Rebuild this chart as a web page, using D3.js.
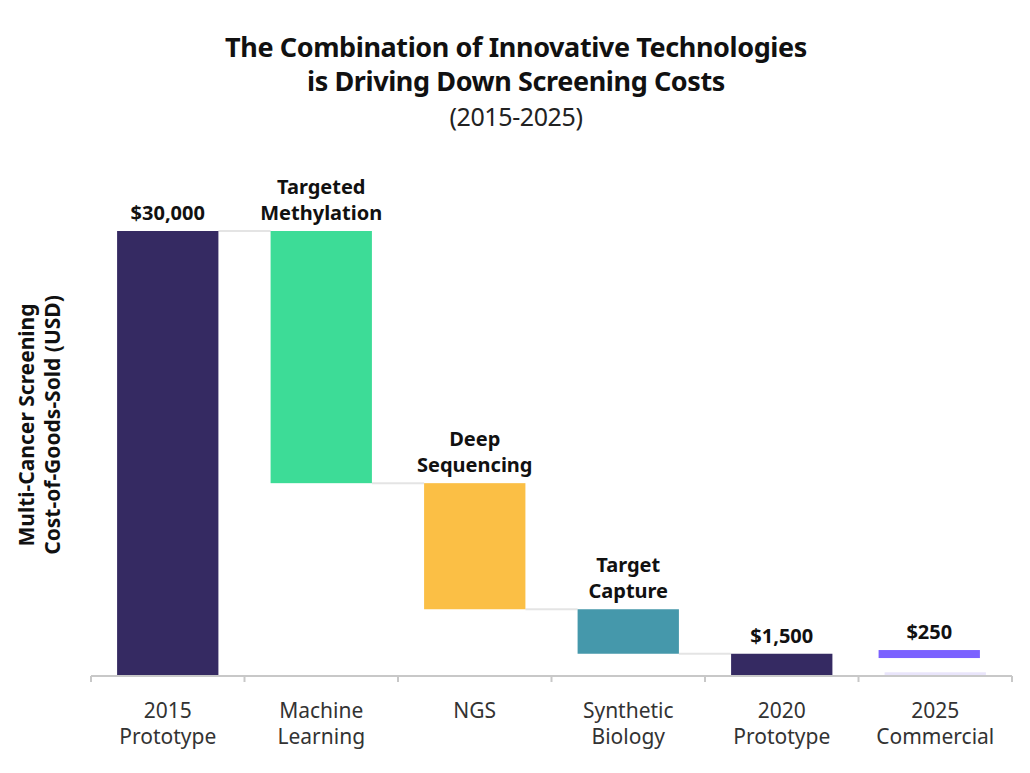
<!DOCTYPE html>
<html>
<head>
<meta charset="utf-8">
<script src="https://cdn.jsdelivr.net/npm/d3@7"></script>
<style>
  body { margin: 0; background: #fff; }
  text { font-family: "Noto Sans", sans-serif; }
</style>
</head>
<body>
<script>
// waterfall data
var categories = ["2015 Prototype", "Machine Learning", "NGS", "Synthetic Biology", "2020 Prototype", "2025 Commercial"]
var tickLines = [["2015", "Prototype"], ["Machine", "Learning"], ["NGS"], ["Synthetic", "Biology"], ["2020", "Prototype"], ["2025", "Commercial"]]
var steps = [30000, -17000, -8500, -3000, 1500, 250]   // first/last two are totals
var isTotal = [true, false, false, false, true, true]
var barLabels = [["$30,000"], ["Targeted", "Methylation"], ["Deep", "Sequencing"], ["Target", "Capture"], ["$1,500"], ["$250"]]
var colors = ["#352a62", "#3ddc97", "#fbbf45", "#4598ab", "#352a62", "#e9e5fb"]

var width = 1030, height = 773
var margin = { top: 231, left: 91, right: 18, bottom: 97 }

var svg = d3.select("body").append("svg")
    .attr("width", width)
    .attr("height", height)

// build bar extents
var bars = []
var running = 0
categories.forEach(function (c, i) {
    if (isTotal[i]) {
        bars.push({ cat: c, y0: 0, y1: steps[i], i: i })
        running = steps[i]
    } else {
        bars.push({ cat: c, y0: running + steps[i], y1: running, i: i })
        running = running + steps[i]
    }
})

var xScale = d3.scaleBand()
    .domain(categories)
    .range([margin.left, width - margin.right])
    .paddingInner(0.34)
    .paddingOuter(0.17)

var yScale = d3.scaleLinear()
    .domain([0, 30000])
    .range([height - margin.bottom, margin.top])

// title
var title = svg.append("g").attr("text-anchor", "middle")
title.append("text").attr("x", 516).attr("y", 57)
    .style("font-size", "27px").style("font-weight", 700).attr("fill", "#111")
    .style("letter-spacing", "-0.4px")
    .text("The Combination of Innovative Technologies")
title.append("text").attr("x", 516).attr("y", 91)
    .style("font-size", "27px").style("font-weight", 700).attr("fill", "#111")
    .style("letter-spacing", "-0.4px")
    .text("is Driving Down Screening Costs")
title.append("text").attr("x", 516).attr("y", 126)
    .style("font-size", "25px").attr("fill", "#222")
    .style("letter-spacing", "-0.4px")
    .text("(2015-2025)")

// connectors
svg.append("g").selectAll("line")
    .data(bars.slice(0, 4))
    .enter().append("line")
    .attr("x1", function (d) { return xScale(d.cat) + xScale.bandwidth() })
    .attr("x2", function (d) { return xScale(categories[d.i + 1]) })
    .attr("y1", function (d) { return yScale(d.i === 0 ? d.y1 : d.y0) })
    .attr("y2", function (d) { return yScale(d.i === 0 ? d.y1 : d.y0) })
    .attr("stroke", "#e4e4e4")
    .attr("stroke-width", 2)

// bars
svg.append("g").selectAll("rect")
    .data(bars)
    .enter().append("rect")
    .attr("x", function (d) { return xScale(d.cat) })
    .attr("width", xScale.bandwidth())
    .attr("y", function (d) { return yScale(d.y1) })
    .attr("height", function (d) { return yScale(d.y0) - yScale(d.y1) })
    .attr("fill", function (d) { return colors[d.i] })

// highlight marker for the 2025 value
var last = categories[5]
svg.append("rect")
    .attr("x", xScale(last) - 6)
    .attr("width", xScale.bandwidth())
    .attr("y", yScale(1750))
    .attr("height", 8)
    .attr("fill", "#7b61ff")

// x axis
var xAxis = d3.axisBottom(xScale).tickSize(0).tickFormat("")
var gx = svg.append("g")
    .attr("transform", "translate(0," + (height - margin.bottom) + ")")
    .call(xAxis)
gx.select(".domain").attr("stroke", "#c8c8c8").attr("stroke-width", 2)
    .attr("d", "M" + margin.left + ",0H" + (width - margin.right))
var edges = categories.map(function (c) { return xScale(c) - xScale.step() * xScale.paddingInner() / 2 })
edges.push(width - margin.right)
gx.selectAll(".sep").data(edges).enter().append("line")
    .attr("x1", function (d) { return d }).attr("x2", function (d) { return d })
    .attr("y1", 0).attr("y2", 6)
    .attr("stroke", "#c8c8c8").attr("stroke-width", 2)

gx.selectAll(".lbl").data(tickLines).enter().append("text")
    .attr("text-anchor", "middle")
    .attr("fill", "#333")
    .style("font-size", "21px")
    .attr("transform", function (d, i) { return "translate(" + (xScale(categories[i]) + xScale.bandwidth() / 2) + ",0)" })
    .selectAll("tspan").data(function (d) { return d }).enter().append("tspan")
    .attr("x", 0)
    .attr("y", function (d, j) { return 42 + j * 26 })
    .text(function (d) { return d })

// bar labels
svg.append("g").selectAll("text")
    .data(bars)
    .enter().append("text")
    .attr("text-anchor", "middle")
    .attr("fill", "#111")
    .style("font-size", "20px").style("font-weight", 700)
    .attr("transform", function (d) {
        var top = d.i === 5 ? yScale(1750) : yScale(d.y1)
        var cx = xScale(d.cat) + xScale.bandwidth() / 2 - (d.i === 5 ? 6 : 0)
        return "translate(" + cx + "," + (top - 11) + ")"
    })
    .selectAll("tspan").data(function (d) { return barLabels[d.i] }).enter().append("tspan")
    .attr("x", 0)
    .attr("y", function (d, j, nodes) { return -(nodes.length - 1 - j) * 26 })
    .text(function (d) { return d })

// y axis label
var yl = svg.append("text")
    .attr("transform", "translate(0,425) rotate(-90)")
    .attr("text-anchor", "middle")
    .style("font-size", "21px").style("font-weight", 700)
    .attr("fill", "#111")
yl.append("tspan").attr("x", 0).attr("y", 34).text("Multi-Cancer Screening")
yl.append("tspan").attr("x", 0).attr("y", 60).text("Cost-of-Goods-Sold (USD)")
</script>
</body>
</html>
